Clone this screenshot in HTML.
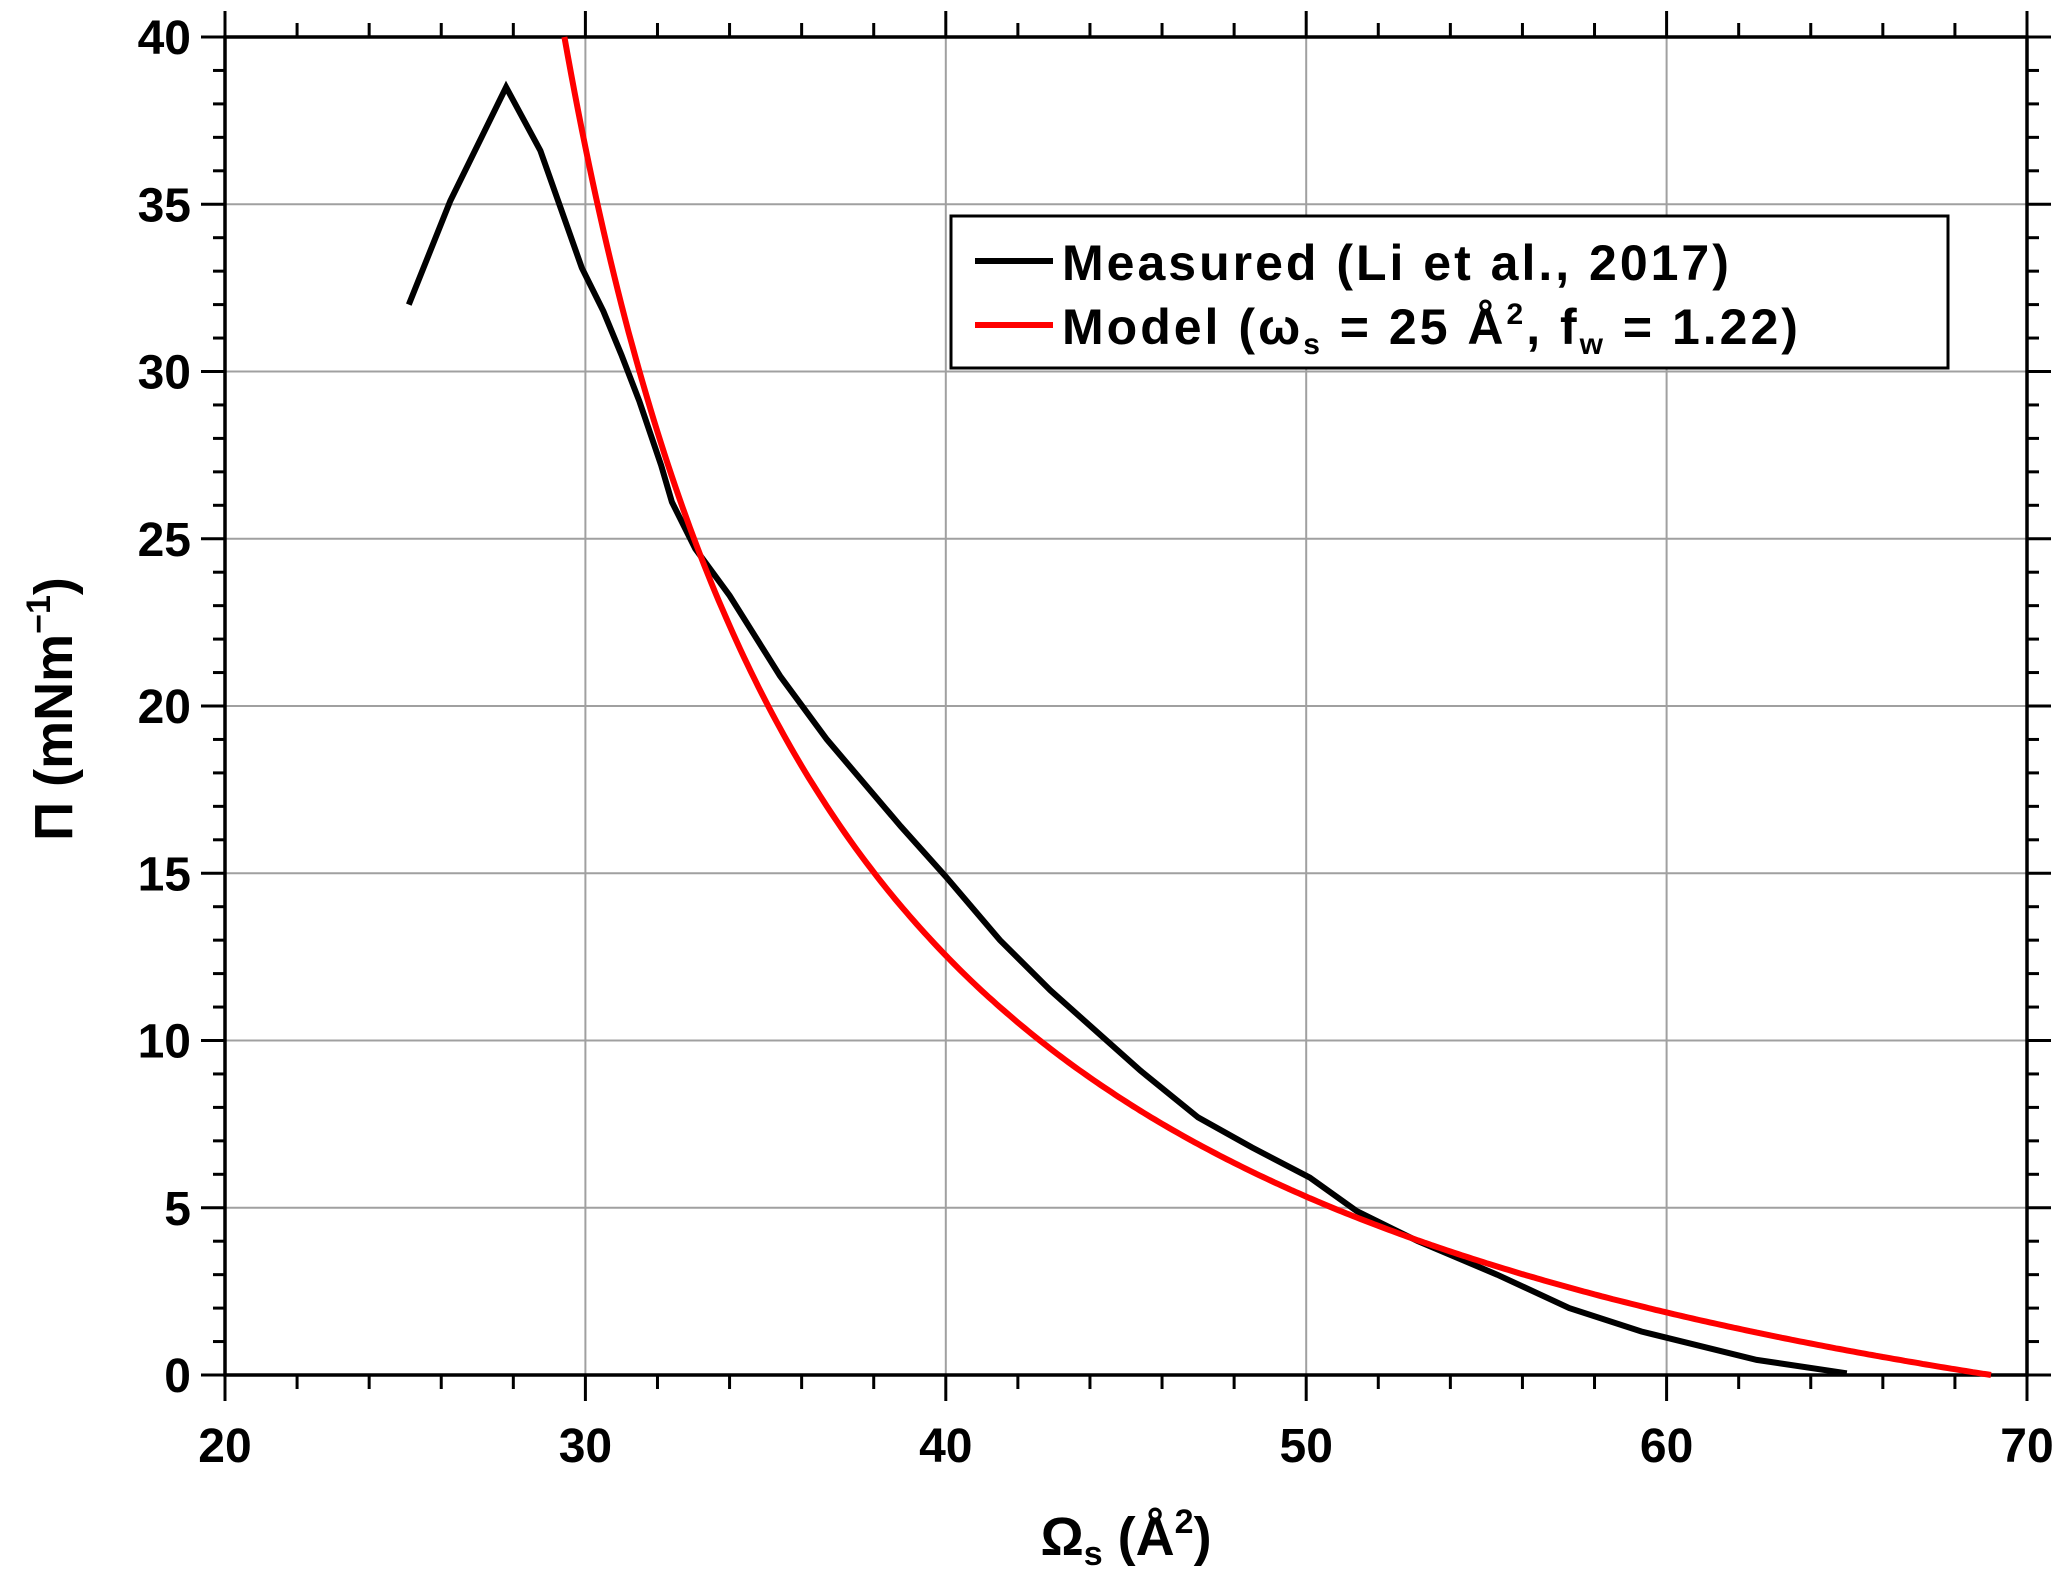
<!DOCTYPE html>
<html><head><meta charset="utf-8"><style>
html,body{margin:0;padding:0;background:#fff;}
svg{display:block;}
text{font-family:"Liberation Sans",sans-serif;font-weight:bold;fill:#000;}
</style></head><body>
<svg id="s" width="2067" height="1572" viewBox="0 0 2067 1572" xmlns="http://www.w3.org/2000/svg"></svg>
<script>
var L=225,R=2027,T=37,B=1375;
function X(v){return L+(v-20)*(R-L)/50;}
function Y(v){return B-v*(B-T)/40;}
var h='';
for(var v=30;v<70;v+=10)h+='<line x1="'+X(v)+'" y1="'+T+'" x2="'+X(v)+'" y2="'+B+'" stroke="#a0a0a0" stroke-width="2"/>';
for(var v=5;v<40;v+=5)h+='<line x1="'+L+'" y1="'+Y(v)+'" x2="'+R+'" y2="'+Y(v)+'" stroke="#a0a0a0" stroke-width="2"/>';
for(var v=20;v<=70;v+=2){var maj=(v%10==0);var l=maj?26:14;
h+='<line x1="'+X(v)+'" y1="'+B+'" x2="'+X(v)+'" y2="'+(B+l)+'" stroke="#000" stroke-width="3"/>';
h+='<line x1="'+X(v)+'" y1="'+T+'" x2="'+X(v)+'" y2="'+(T-l)+'" stroke="#000" stroke-width="3"/>';}
for(var v=0;v<=40;v+=1){var maj=(v%5==0);var l=maj?24:12;
h+='<line x1="'+L+'" y1="'+Y(v)+'" x2="'+(L-l)+'" y2="'+Y(v)+'" stroke="#000" stroke-width="3"/>';
h+='<line x1="'+R+'" y1="'+Y(v)+'" x2="'+(R+l)+'" y2="'+Y(v)+'" stroke="#000" stroke-width="3"/>';}
h+='<rect x="'+L+'" y="'+T+'" width="'+(R-L)+'" height="'+(B-T)+'" fill="none" stroke="#000" stroke-width="3.5"/>';
for(var v=20;v<=70;v+=10)h+='<text x="'+X(v)+'" y="'+(B+87)+'" font-size="48" text-anchor="middle">'+v+'</text>';
for(var v=0;v<=40;v+=5)h+='<text x="'+(L-34)+'" y="'+(Y(v)+17)+'" font-size="48" text-anchor="end">'+v+'</text>';
// model
var b=21.5,A=380,m=[];
var x0=b+1/(40/A+1/(69-b));
m.push([x0,40]);
for(var x=Math.ceil(x0*10)/10;x<=69.001;x+=0.1){m.push([x,Math.max(0,A*(1/(x-b)-1/(69-b)))]);}
var p=m.map(function(q){return X(q[0]).toFixed(1)+','+Y(q[1]).toFixed(1);}).join(' ');
var d=[[25.1,32.0],[26.25,35.1],[27.8,38.5],[28.75,36.6],[29.9,33.1],[30.5,31.8],[31.0,30.5],[31.5,29.1],[32.1,27.2],[32.4,26.1],[33.05,24.7],[34.0,23.3],[35.4,20.9],[36.7,19.0],[38.75,16.4],[40,14.9],[41.5,13.0],[42.9,11.5],[45.4,9.1],[47.0,7.7],[48.5,6.8],[50.1,5.9],[51.4,4.9],[53.1,4.0],[55.3,3.0],[57.3,2.0],[59.3,1.3],[62.5,0.45],[65,0.05]];
var q=d.map(function(q){return X(q[0]).toFixed(1)+','+Y(q[1]).toFixed(1);}).join(' ');
h+='<polyline points="'+q+'" fill="none" stroke="#000" stroke-width="6"/>';
h+='<polyline points="'+p+'" fill="none" stroke="#ff0000" stroke-width="6"/>';
h+='<rect x="951" y="216" width="997" height="152" fill="#fff" stroke="#000" stroke-width="3"/>';
h+='<line x1="975" y1="261" x2="1053" y2="261" stroke="#000" stroke-width="6"/>';
h+='<line x1="975" y1="325" x2="1053" y2="325" stroke="#ff0000" stroke-width="6"/>';
h+='<text x="1062" y="280" font-size="50" letter-spacing="3">Measured (Li et al., 2017)</text>';
h+='<text x="1062" y="344" font-size="50" letter-spacing="3">Model (ω<tspan font-size="30" dy="10">s</tspan><tspan dy="-10"> = 25 Å</tspan><tspan font-size="30" dy="-20">2</tspan><tspan dy="20">, f</tspan><tspan font-size="30" dy="10">w</tspan><tspan dy="-10"> = 1.22)</tspan></text>';
h+='<text x="1126" y="1555" font-size="54" text-anchor="middle">Ω<tspan font-size="34" dy="10">s</tspan><tspan dy="-10"> (Å</tspan><tspan font-size="34" dy="-22">2</tspan><tspan dy="22">)</tspan></text>';
h+='<text transform="translate(72,709) rotate(-90)" font-size="54" text-anchor="middle">Π (mNm<tspan font-size="34" dy="-22">−1</tspan><tspan dy="22">)</tspan></text>';
document.getElementById('s').innerHTML=h;
</script>
</body></html>
